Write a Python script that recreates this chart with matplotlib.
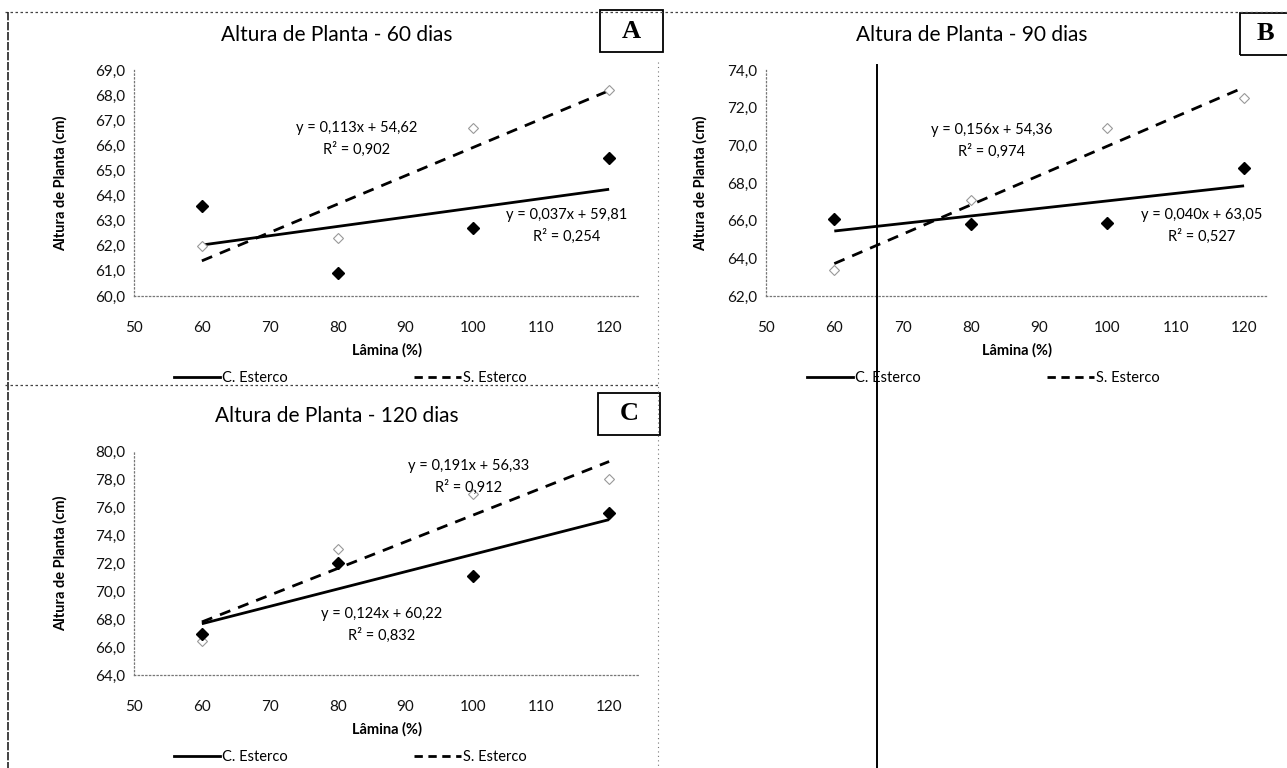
import matplotlib
matplotlib.use('Agg')
import matplotlib.pyplot as plt
from matplotlib.lines import Line2D
from matplotlib.patches import Rectangle
import numpy as np

plt.rcParams['font.family'] = ['Lato', 'DejaVu Sans']

# dados
lamina = [60, 80, 100, 120]

titulos = ['Altura de Planta - 60 dias', 'Altura de Planta - 90 dias', 'Altura de Planta - 120 dias']
letras = ['A', 'B', 'C']

c_esterco = [
    [63.6, 60.9, 62.7, 65.5],
    [66.1, 65.8, 65.9, 68.8],
    [66.9, 72.0, 71.1, 75.6],
]
s_esterco = [
    [62.0, 62.3, 66.7, 68.2],
    [63.4, 67.1, 70.9, 72.5],
    [66.4, 73.0, 76.9, 78.0],
]

# coeficientes das linhas de tendencia (y = a*x + b)
c_coef = [(0.037, 59.81), (0.040, 63.05), (0.124, 60.22)]
s_coef = [(0.113, 54.62), (0.156, 54.36), (0.191, 56.33)]
c_r2 = ['0,254', '0,527', '0,832']
s_r2 = ['0,902', '0,974', '0,912']

ylims = [(60, 69), (62, 74), (64, 80)]
ysteps = [1, 2, 2]

W, H = 1287, 768
fig = plt.figure(figsize=(W / 100, H / 100), dpi=100)


def fx(px):
    return px / W


def fy(py):
    return 1 - py / H


# posicoes dos paineis em pixels: x0, x1 (x=50 e fim do eixo), ytop, ybottom
paineis = [
    dict(x0=134, x1=639, yt=70, yb=296, xmax=124.4, tx=337, lx=350, lp=20),
    dict(x0=766, x1=1268, yt=70, yb=296, xmax=123.5, tx=972, lx=983, lp=14),
    dict(x0=134, x1=639, yt=451, yb=675, xmax=124.4, tx=337, lx=350, lp=20),
]

# posicoes dos textos das equacoes (px): (x, y) para S e C
eq_pos = [
    ((357, 128), (567, 215)),
    ((992, 130), (1202, 215)),
    ((469, 466), (382, 614)),
]

box_pos = [(600, 10, 63, 42), (1240, 13, 50, 42), (598, 393, 62, 42)]

for i, p in enumerate(paineis):
    ax = fig.add_axes([fx(p['x0']), fy(p['yb']), fx(p['x1'] - p['x0']), (p['yb'] - p['yt']) / H])
    ax.set_xlim(50, p['xmax'])
    ax.set_ylim(*ylims[i])
    ax.set_xticks(np.arange(50, 121, 10))
    yt = np.arange(ylims[i][0], ylims[i][1] + 0.01, ysteps[i])
    ax.set_yticks(yt)
    ax.set_yticklabels([('%.1f' % v).replace('.', ',') for v in yt])
    ax.tick_params(axis='both', length=0, labelsize=11, colors='#111111')
    ax.tick_params(axis='x', pad=18)
    ax.tick_params(axis='y', pad=6)
    for s in ['top', 'right']:
        ax.spines[s].set_visible(False)
    for s in ['left', 'bottom']:
        ax.spines[s].set_linestyle((0, (1, 2)))
        ax.spines[s].set_color('#777777')
        ax.spines[s].set_linewidth(0.9)
    ax.patch.set_alpha(0)

    xs = np.array([lamina[0], lamina[-1]])
    a, b = c_coef[i]
    ax.plot(xs, a * xs + b, color='black', lw=2.0, solid_capstyle='butt')
    a, b = s_coef[i]
    ax.plot(xs, a * xs + b, color='black', lw=2.0, linestyle=(0, (4, 3)))
    ax.plot(lamina, s_esterco[i], linestyle='none', marker='D', markersize=5,
            markerfacecolor='white', markeredgecolor='#999999', markeredgewidth=0.8)
    ax.plot(lamina, c_esterco[i], linestyle='none', marker='D', markersize=6,
            color='black')

    ax.set_xlabel('Lâmina (%)', fontsize=10.5, fontweight='bold', labelpad=6)
    ax.set_ylabel('Altura de Planta (cm)', fontsize=10.5, fontweight='bold', labelpad=p['lp'])

    (sx, sy), (cx, cy) = eq_pos[i]
    a, b = s_coef[i]
    fig.text(fx(sx), fy(sy), ('y = %.3fx + %.2f' % (a, b)).replace('.', ','),
             ha='center', va='center', fontsize=10.5)
    fig.text(fx(sx), fy(sy + 21), 'R² = ' + s_r2[i], ha='center', va='center', fontsize=10.5)
    a, b = c_coef[i]
    fig.text(fx(cx), fy(cy), ('y = %.3fx + %.2f' % (a, b)).replace('.', ','),
             ha='center', va='center', fontsize=10.5)
    fig.text(fx(cx), fy(cy + 21), 'R² = ' + c_r2[i], ha='center', va='center', fontsize=10.5)

    fig.text(fx(p['tx']), fy(p['yt'] - 35), titulos[i], ha='center', va='center', fontsize=15)

    bx, by, bw, bh = box_pos[i]
    fig.patches.append(Rectangle((fx(bx), fy(by + bh)), bw / W, bh / H, transform=fig.transFigure,
                                 fill=False, edgecolor='black', lw=1.3))
    fig.text(fx(bx + bw / 2), fy(by + bh / 2), letras[i], ha='center', va='center',
             fontsize=19, fontweight='bold', family='Liberation Serif')

    handles = [Line2D([], [], color='black', lw=2.0),
               Line2D([], [], color='black', lw=2.0, linestyle=(0, (3, 2)))]
    ax.legend(handles, ['C. Esterco', 'S. Esterco'], loc='center', ncol=2, frameon=False,
              bbox_to_anchor=(fx(p['lx']), fy(p['yb'] + 82)), bbox_transform=fig.transFigure,
              fontsize=10.5, handlelength=3.2, handletextpad=0.1, columnspacing=8.7)

# bordas da figura escaneada
def linha(x0, y0, x1, y1, **kw):
    fig.add_artist(Line2D([fx(x0), fx(x1)], [fy(y0), fy(y1)], transform=fig.transFigure, **kw))

linha(5, 12, 1287, 12, color='#444444', lw=0.9, linestyle=(0, (2, 2)))
linha(8, 12, 8, 768, color='#222222', lw=1.2, linestyle=(0, (5, 1)))
linha(5, 385, 660, 385, color='#444444', lw=0.9, linestyle=(0, (2, 2)))
linha(658, 62, 658, 768, color='#777777', lw=0.8, linestyle=(0, (1, 3)))
linha(877, 65, 877, 768, color='black', lw=1.4)

fig.savefig('out.png', dpi=100)
